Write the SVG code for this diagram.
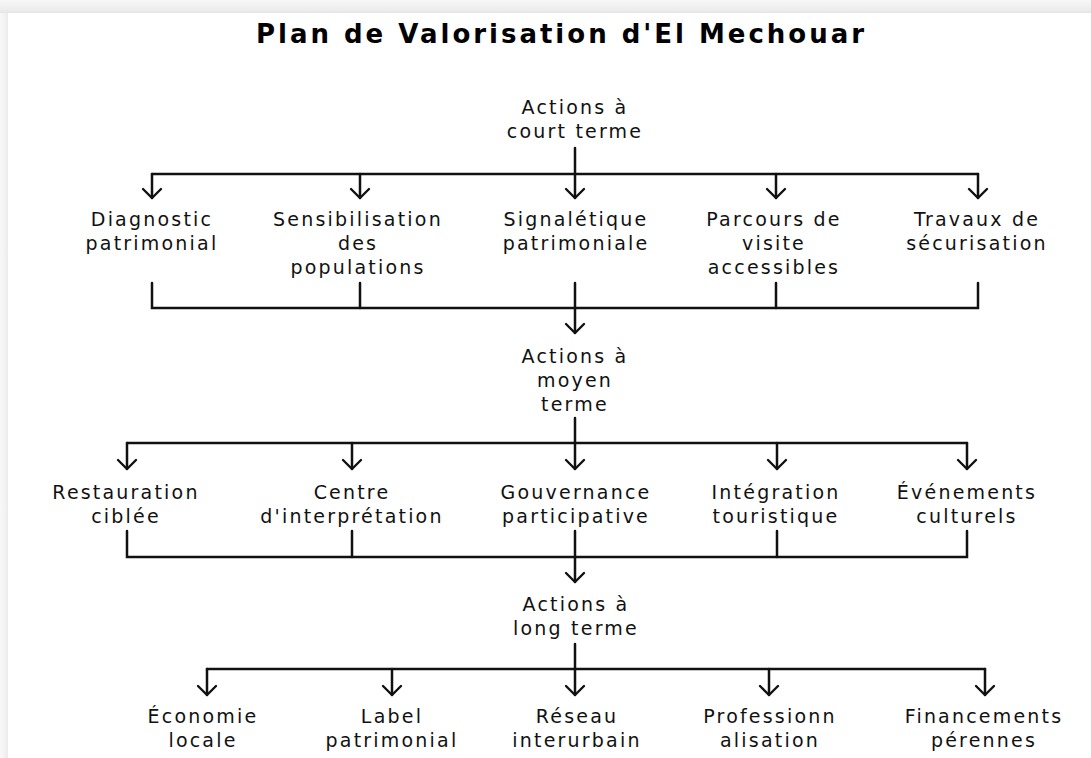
<svg xmlns="http://www.w3.org/2000/svg" width="1091" height="758" viewBox="0 0 1091 758">
<style>
.t{font-family:"DejaVu Sans","Liberation Sans",sans-serif;font-size:19px;letter-spacing:2.2px;fill:#111;text-anchor:middle}
.title{font-family:"DejaVu Sans","Liberation Sans",sans-serif;font-size:26px;font-weight:bold;fill:#000;text-anchor:middle}
.c{fill:none;stroke:#111;stroke-width:2.5;stroke-linecap:round}
.a{marker-end:url(#ah)}
</style>
<defs>
<marker id="ah" viewBox="-11 -11 13 22" refX="0" refY="0" markerWidth="13" markerHeight="22" markerUnits="userSpaceOnUse" orient="auto">
<path d="M-9,-9 L0,0 L-9,9" fill="none" stroke="#111" stroke-width="2.4" stroke-linecap="round" stroke-linejoin="round"/>
</marker>
<linearGradient id="gt" x1="0" y1="0" x2="0" y2="1">
<stop offset="0" stop-color="#f7f7f7"/><stop offset="0.8" stop-color="#ececec"/><stop offset="1" stop-color="#e4e4e4"/>
</linearGradient>
<linearGradient id="gl" x1="0" y1="0" x2="1" y2="0">
<stop offset="0" stop-color="#f8f8f8"/><stop offset="0.7" stop-color="#f1f1f1"/><stop offset="1" stop-color="#ebebeb"/>
</linearGradient>
</defs>
<rect x="0" y="0" width="1091" height="758" fill="#fff"/>
<rect x="0" y="0" width="1091" height="13" fill="url(#gt)"/>
<rect x="0" y="13" width="8" height="745" fill="url(#gl)"/>

<g id="title"><text class="title" x="560" y="43" textLength="608" lengthAdjust="spacing">Plan de Valorisation d'El Mechouar</text></g>

<g id="connectors">
<!-- row 1 -->
<path class="c" d="M575,148 L575,174"/>
<path class="c" d="M152,174 L978,174"/>
<path class="c a" d="M152,174 L152,198"/>
<path class="c a" d="M360,174 L360,198"/>
<path class="c a" d="M575,174 L575,198"/>
<path class="c a" d="M776,174 L776,198"/>
<path class="c a" d="M978,174 L978,198"/>
<path class="c" d="M152,283 L152,308 L978,308 L978,283"/>
<path class="c" d="M360,283 L360,308"/>
<path class="c" d="M776,283 L776,308"/>
<path class="c a" d="M575,283 L575,333"/>
<!-- row 2 -->
<path class="c" d="M575,418 L575,443"/>
<path class="c" d="M127,443 L967,443"/>
<path class="c a" d="M127,443 L127,469"/>
<path class="c a" d="M352,443 L352,469"/>
<path class="c a" d="M575,443 L575,469"/>
<path class="c a" d="M777,443 L777,469"/>
<path class="c a" d="M967,443 L967,469"/>
<path class="c" d="M127,531 L127,557 L967,557 L967,531"/>
<path class="c" d="M352,531 L352,557"/>
<path class="c" d="M777,531 L777,557"/>
<path class="c a" d="M575,531 L575,582"/>
<!-- row 3 -->
<path class="c" d="M575,644 L575,669"/>
<path class="c" d="M207,669 L985,669"/>
<path class="c a" d="M207,669 L207,695"/>
<path class="c a" d="M392,669 L392,695"/>
<path class="c a" d="M575,669 L575,695"/>
<path class="c a" d="M769,669 L769,695"/>
<path class="c a" d="M985,669 L985,695"/>
</g>

<g id="court-terme"><text class="t" x="575" y="114">Actions à</text><text class="t" x="575" y="138">court terme</text></g>
<g id="diagnostic"><text class="t" x="152" y="226">Diagnostic</text><text class="t" x="152" y="250">patrimonial</text></g>
<g id="sensibilisation"><text class="t" x="358" y="226">Sensibilisation</text><text class="t" x="358" y="250">des</text><text class="t" x="358" y="274">populations</text></g>
<g id="signaletique"><text class="t" x="576" y="226">Signalétique</text><text class="t" x="576" y="250">patrimoniale</text></g>
<g id="parcours"><text class="t" x="774" y="226">Parcours de</text><text class="t" x="774" y="250">visite</text><text class="t" x="774" y="274">accessibles</text></g>
<g id="travaux"><text class="t" x="977" y="226">Travaux de</text><text class="t" x="977" y="250">sécurisation</text></g>

<g id="moyen-terme"><text class="t" x="575" y="363">Actions à</text><text class="t" x="575" y="387">moyen</text><text class="t" x="575" y="411">terme</text></g>
<g id="restauration"><text class="t" x="126" y="499">Restauration</text><text class="t" x="126" y="523">ciblée</text></g>
<g id="centre"><text class="t" x="352" y="499">Centre</text><text class="t" x="352" y="523">d'interprétation</text></g>
<g id="gouvernance"><text class="t" x="576" y="499">Gouvernance</text><text class="t" x="576" y="523">participative</text></g>
<g id="integration"><text class="t" x="776" y="499">Intégration</text><text class="t" x="776" y="523">touristique</text></g>
<g id="evenements"><text class="t" x="967" y="499">Événements</text><text class="t" x="967" y="523">culturels</text></g>

<g id="long-terme"><text class="t" x="576" y="611">Actions à</text><text class="t" x="576" y="635">long terme</text></g>
<g id="economie"><text class="t" x="203" y="723">Économie</text><text class="t" x="203" y="747">locale</text></g>
<g id="label"><text class="t" x="392" y="723">Label</text><text class="t" x="392" y="747">patrimonial</text></g>
<g id="reseau"><text class="t" x="577" y="723">Réseau</text><text class="t" x="577" y="747">interurbain</text></g>
<g id="professionnalisation"><text class="t" x="770" y="723">Professionn</text><text class="t" x="770" y="747">alisation</text></g>
<g id="financements"><text class="t" x="984" y="723">Financements</text><text class="t" x="984" y="747">pérennes</text></g>
</svg>
